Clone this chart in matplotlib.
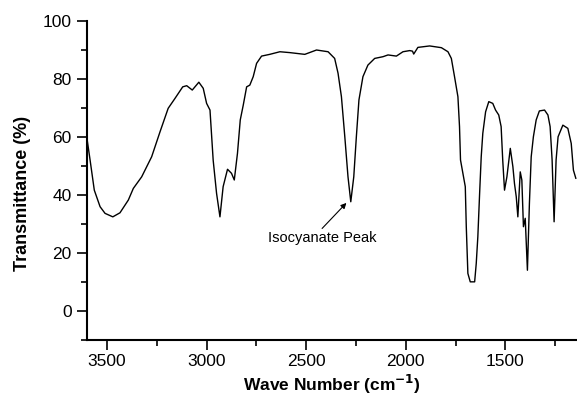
import matplotlib
matplotlib.use("Agg")
import matplotlib.pyplot as plt
from matplotlib.ticker import MultipleLocator

plt.rcParams['font.family'] = ['Liberation Sans', 'DejaVu Sans']

# FTIR spectrum
wavenumber = [3602, 3585, 3564, 3535, 3510, 3471, 3435, 3393, 3368, 3326,
              3276, 3234, 3193, 3159, 3120, 3100, 3072, 3039, 3017, 3000,
              2983, 2967, 2950, 2933, 2917, 2895, 2875, 2861, 2845, 2831,
              2816, 2799, 2783, 2766, 2749, 2724, 2683, 2632, 2582, 2507,
              2448, 2390, 2357, 2340, 2323, 2306, 2290, 2276, 2261, 2248,
              2235, 2215, 2190, 2156, 2114, 2089, 2047, 2014, 1980, 1966,
              1960, 1939, 1880, 1821, 1788, 1771, 1755, 1738, 1730, 1725,
              1713, 1701, 1696, 1688, 1676, 1654, 1646, 1638, 1629, 1621,
              1613, 1599, 1583, 1563, 1549, 1533, 1521, 1513, 1504, 1492,
              1475, 1462, 1454, 1445, 1437, 1425, 1417, 1409, 1400, 1389,
              1379, 1370, 1359, 1345, 1329, 1303, 1286, 1275, 1265, 1255,
              1245, 1235, 1211, 1186, 1169, 1158, 1146]
transmittance = [60.1, 52.0, 41.7, 36.0, 33.7, 32.5, 33.9, 38.3, 42.3, 46.3,
                 53.2, 61.8, 69.9, 73.3, 77.3, 77.7, 76.2, 78.9, 76.8, 71.6,
                 69.3, 52.0, 40.6, 32.5, 42.9, 48.9, 47.5, 45.2, 54.4, 65.9,
                 71.0, 77.3, 77.9, 80.8, 85.4, 87.9, 88.5, 89.4, 89.1, 88.5,
                 90.0, 89.4, 87.1, 82.0, 73.9, 60.1, 46.3, 37.7, 46.3, 60.1,
                 72.8, 80.8, 84.8, 87.1, 87.7, 88.3, 87.9, 89.4, 89.8, 89.6,
                 88.6, 90.9, 91.4, 90.8, 89.4, 87.1, 80.8, 73.9, 63.6, 52.1,
                 47.5, 42.9, 29.1, 13.0, 10.1, 10.1, 16.4, 25.6, 40.6, 53.2,
                 61.3, 68.7, 72.2, 71.6, 69.3, 67.6, 63.6, 52.1, 41.7, 46.3,
                 56.1, 49.8, 44.0, 39.4, 32.5, 48.0, 45.2, 29.1, 32.0, 14.1,
                 37.1, 53.2, 60.1, 65.9, 69.0, 69.3, 67.6, 63.6, 52.1, 30.8,
                 52.1, 60.1, 64.1, 63.0, 57.8, 48.6, 45.8]

peak_xy = (2298, 37.3)
arrow_tail = (2420, 28.5)
label_xy = (2420, 25.2)

fig = plt.figure(figsize=(5.77, 3.96), dpi=100)
ax = fig.add_axes([0.151, 0.141, 0.849, 0.806])

ax.plot(wavenumber, transmittance, color='black', linewidth=1.0)

ax.set_xlim(3600, 1140)
ax.set_ylim(-10, 100)

ax.spines['top'].set_visible(False)
ax.spines['right'].set_visible(False)
ax.spines['left'].set_linewidth(1.5)
ax.spines['bottom'].set_linewidth(1.5)

ax.xaxis.set_major_locator(MultipleLocator(500))
ax.xaxis.set_minor_locator(MultipleLocator(250))
ax.yaxis.set_major_locator(MultipleLocator(20))
ax.yaxis.set_minor_locator(MultipleLocator(10))
ax.tick_params(which='major', length=7, width=1.2, labelsize=12.5, pad=4)
ax.tick_params(axis='x', which='major', pad=3)
ax.tick_params(which='minor', length=4, width=1.2)

ax.set_xlabel('Wave Number (cm$^{\\mathbf{-1}}$)', fontsize=12.5, fontweight='bold')
ax.xaxis.set_label_coords(0.5, -0.102)
ax.set_ylabel('Transmittance (%)', fontsize=13, fontweight='bold')
ax.yaxis.set_label_coords(-0.115, 0.46)

# arrow and label drawn separately so the tail sits over the label centre
ax.annotate('', xy=peak_xy, xytext=arrow_tail,
            arrowprops=dict(arrowstyle='-|>', color='black', lw=0.8,
                            mutation_scale=8, shrinkA=0, shrinkB=0))
ax.text(label_xy[0], label_xy[1], 'Isocyanate Peak', ha='center', va='center', fontsize=10.5)

fig.savefig('out.png', dpi=100)
